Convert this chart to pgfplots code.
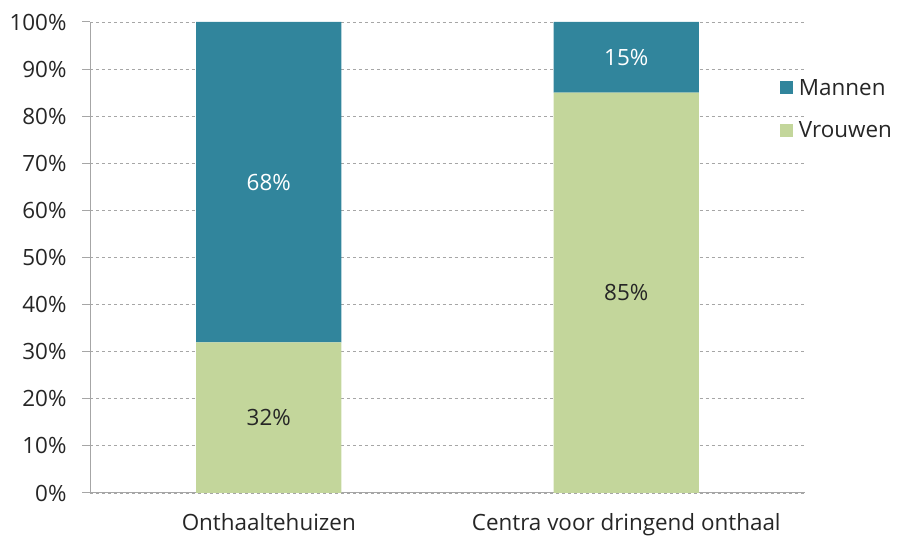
\documentclass[border=0pt]{standalone}
\usepackage{pgfplots}
\pgfplotsset{compat=1.18}
\usepackage{fontspec}
\setmainfont{Open Sans}
\definecolor{mann}{HTML}{31859C}
\definecolor{vrouw}{HTML}{C3D69B}
\definecolor{gridc}{HTML}{A6A6A6}
\begin{document}
\begin{tikzpicture}[x=1bp,y=1bp]
\useasboundingbox (0,0) rectangle (897,536);
\begin{axis}[
  at={(90bp,43bp)}, anchor=south west,
  scale only axis, width=715bp, height=471bp,
  ybar stacked, bar width=0.406,
  xmin=-0.5, xmax=1.5, ymin=0, ymax=100,
  xtick={0,1}, xticklabels={Onthaaltehuizen,Centra voor dringend onthaal},
  extra x ticks={-0.5,0.5,1.5}, extra x tick labels={},
  extra x tick style={major tick length=8bp, tick style={gridc, line width=1pt}, grid=none},
  major x tick style={draw=none},
  ytick={0,10,...,100},
  yticklabel={\pgfmathprintnumber{\tick}\%},
  /pgf/number format/assume math mode=true,
  ymajorgrids, grid style={gridc, dashed, line width=0.8pt},
  axis x line*=bottom, axis y line*=left,
  axis line style={gridc, line width=1pt},
  y tick style={gridc, line width=1pt},
  tick align=outside, major tick length=8bp,
  ticklabel style={font=\fontsize{22.5}{26}\selectfont, text=black!85},
  xticklabel style={yshift=-9bp},
  yticklabel style={xshift=-12bp},
  legend style={draw=none, fill=none, inner sep=0pt, outer sep=0pt, at={(0.965,0.815)}, anchor=west, font=\fontsize{22.5}{26}\selectfont, text=black!85, row sep=25bp, cells={anchor=west}, nodes={inner sep=0pt, inner xsep=6bp}},
  legend image code/.code={\fill[#1] (0bp,-6.5bp) rectangle (13bp,6.5bp);},
  reverse legend,
  nodes near coords, every node near coord/.append style={font=\fontsize{22.5}{26}\selectfont},
]
\addplot[fill=vrouw, draw=none, nodes near coords={\pgfmathprintnumber{\pgfplotspointmeta}\%}, every node near coord/.append style={text=black!85}] coordinates {(0,32) (1,85)};
\addplot[fill=mann, draw=none, nodes near coords={\pgfmathprintnumber{\pgfplotspointmeta}\%}, every node near coord/.append style={text=white}] coordinates {(0,68) (1,15)};
\legend{Vrouwen,Mannen}
\end{axis}
\end{tikzpicture}
\end{document}
